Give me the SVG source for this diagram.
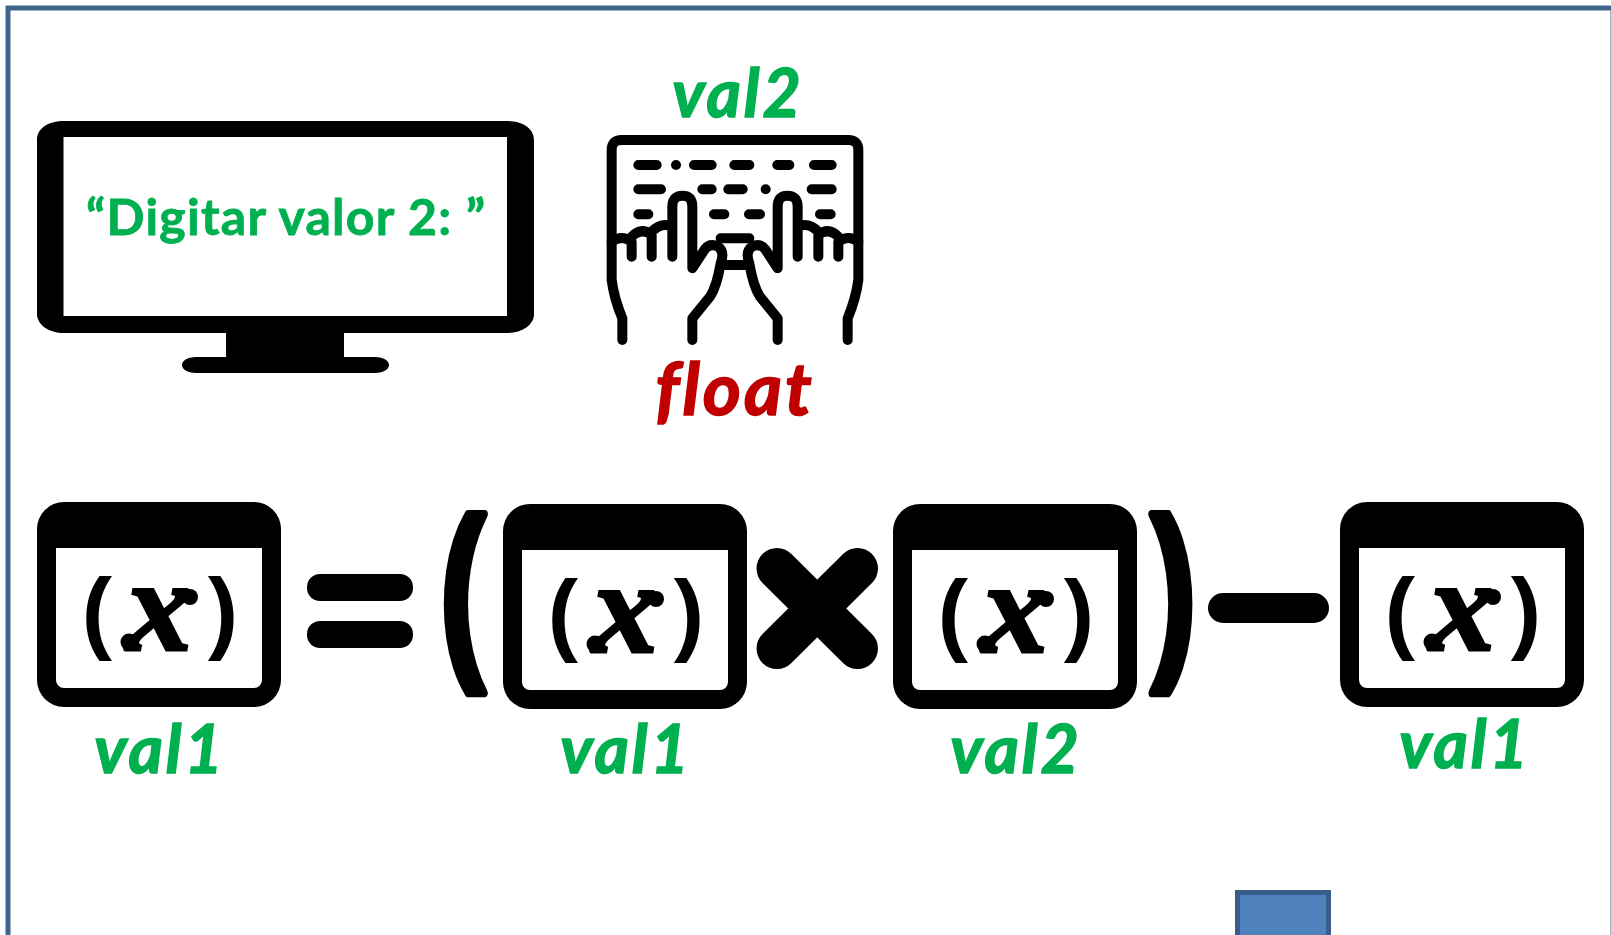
<svg xmlns="http://www.w3.org/2000/svg" width="1611" height="935" viewBox="0 0 1611 935">
<style>
.lbl{font-family:"Lato","Liberation Sans",sans-serif;font-weight:700;font-style:italic;font-size:66px;letter-spacing:3px;fill:#00B050;stroke:#00B050;stroke-width:1.500;text-anchor:middle}
.par{font-family:"Liberation Sans",sans-serif;font-weight:700;font-size:91px;fill:#000;text-anchor:middle}
.x{font-family:"Liberation Serif",serif;font-weight:700;font-style:italic;font-size:132px;fill:#000;stroke:#000;stroke-width:3;text-anchor:middle}
.big{font-family:"Open Sans","Liberation Sans",sans-serif;font-weight:700;font-size:196px;fill:#000;stroke:#000;stroke-width:8;stroke-linejoin:round;text-anchor:middle}
.k{fill:none;stroke:#000;stroke-width:30;stroke-linecap:round;stroke-linejoin:round}
</style>
<defs>
<g id="win">
<path fill-rule="evenodd" d="M64 502H254A27 27 0 0 1 281 529V680A27 27 0 0 1 254 707H64A27 27 0 0 1 37 680V529A27 27 0 0 1 64 502ZM56 548V680A8 8 0 0 0 64 688H254A8 8 0 0 0 262 680V548Z"/>
<circle cx="190" cy="597" r="8"/><circle cx="129" cy="642" r="8.500"/>
</g>
<g id="hand" class="k">
<path d="M65 575Q95 553 125 575V620M125 560Q155 530 185 555V620M185 545Q215 515 247 530V620M247 530V470Q247 437 278 437Q307 437 307 470V655L345 597Q360 578 385 590Q405 605 392 640Q380 710 360 740L307 805V870"/>
</g>
</defs>
<rect id="frame" x="8" y="8" width="1605" height="950" fill="#fff" stroke="#41648F" stroke-width="5"/>
<g id="monitor">
<path fill="#000" fill-rule="evenodd" d="M64 121H507C522 121 534 128 534 140V314C534 325 522 333 507 333H344V357H375C384 357 389 361 389 365C389 369 384 373 375 373H196C187 373 182 369 182 365C182 361 187 357 196 357H226V333H64C49 333 37 325 37 314V140C37 128 49 121 64 121ZM63.500 137V316H507V137Z"/>
<text x="285.500" y="235" font-family="Lato,'Liberation Sans',sans-serif" font-weight="700" font-size="50" fill="#00B050" stroke="#00B050" stroke-width=".8" text-anchor="middle" textLength="399">“Digitar valor 2: ”</text>
</g>
<g id="keyboard">
<text class="lbl" x="738" y="117">val2</text>
<g transform="translate(590 50) scale(.33333)">
<g class="k">
<path d="M97 870V805Q72 745 65 690V300Q65 270 95 270H775Q805 270 805 300V690Q798 745 773 805V870"/>
<path d="M145 345H200M312 345H365M433 345H478M562 345H598M672 345H725M145 418H213M337 418H365M415 418H458M665 418H725M145 493H175M372 493H403M477 493H510M690 493H722M392 565H478M405 645H465"/>
<path d="M258 345h.1M527 418h.1"/>
</g>
<use href="#hand"/>
<use href="#hand" transform="translate(870 0) scale(-1 1)"/>
</g>
<text x="735" y="415" class="lbl" style="fill:#C00000;stroke:#C00000;font-size:73px">float</text>
</g>
<g id="var1"><use href="#win"/><text class="par" x="97" y="642">(</text><text class="x" x="159" y="650">x</text><text class="par" x="223" y="642">)</text><text class="lbl" x="160" y="773">val1</text></g>
<g id="equals"><rect x="307" y="574" width="106" height="27" rx="13"/><rect x="307" y="621" width="106" height="27" rx="13"/></g>
<g id="open-paren"><text class="big" transform="translate(465 661) scale(.726 1.045)">(</text></g>
<g id="var2" transform="translate(466 2)"><use href="#win"/><text class="par" x="97" y="642">(</text><text class="x" x="159" y="650">x</text><text class="par" x="223" y="642">)</text><text class="lbl" x="160" y="771">val1</text></g>
<g id="times"><path d="M777 568.500L857.500 648.500M857.500 568.500L777 648.500" stroke="#000" stroke-width="41" stroke-linecap="round" fill="none"/></g>
<g id="var3" transform="translate(856 2)"><use href="#win"/><text class="par" x="97" y="642">(</text><text class="x" x="159" y="650">x</text><text class="par" x="223" y="642">)</text><text class="lbl" x="160" y="771">val2</text></g>
<g id="close-paren"><text class="big" transform="translate(1171 661) scale(.726 1.045)">)</text></g>
<g id="minus"><rect x="1208" y="593" width="121" height="30" rx="15"/></g>
<g id="var4" transform="translate(1303 0)"><use href="#win"/><text class="par" x="97" y="642">(</text><text class="x" x="159" y="650">x</text><text class="par" x="223" y="642">)</text><text class="lbl" x="162" y="768">val1</text></g>
<rect id="block" x="1237.500" y="892.500" width="91" height="60" fill="#4F81BD" stroke="#385D8A" stroke-width="5"/>
</svg>
